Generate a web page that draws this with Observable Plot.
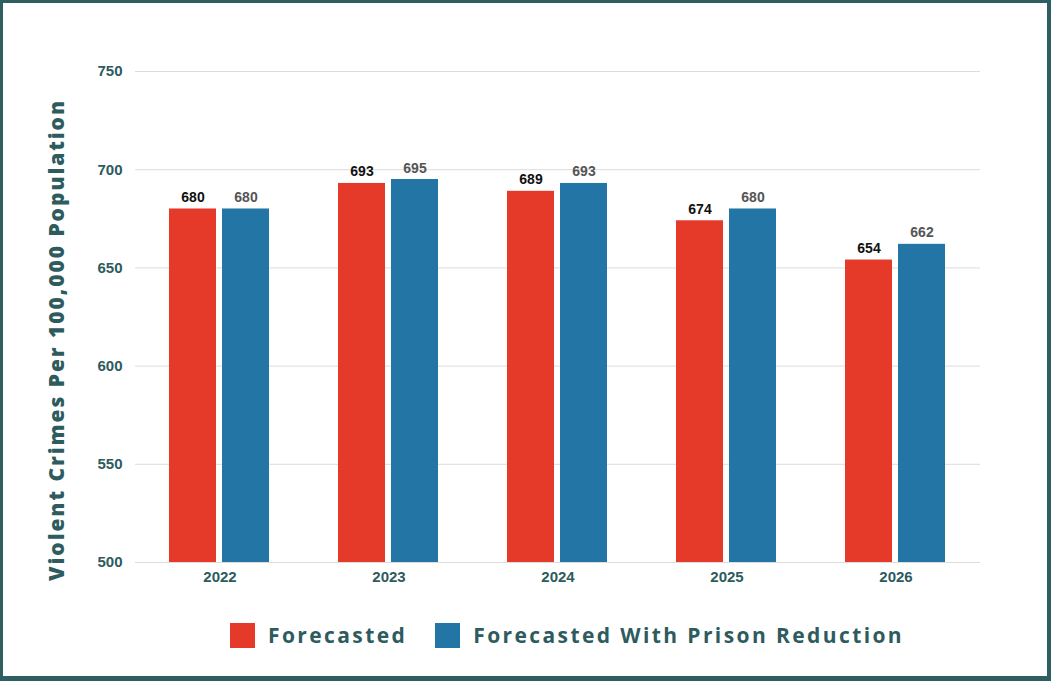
<!DOCTYPE html>
<html>
<head>
<meta charset="utf-8">
<script src="https://cdn.jsdelivr.net/npm/d3@7"></script>
<script src="https://cdn.jsdelivr.net/npm/@observablehq/plot@0.6"></script>
<style>
  html, body { margin: 0; padding: 0; background: #fff; }
  #frame {
    position: relative; box-sizing: border-box; width: 1051px; height: 681px;
    border-style: solid; border-color: #2f5e61; border-width: 3px 4px 5px 3px;
    background: #fff; overflow: hidden;
  }
  #ytitle {
    position: absolute; left: 53px; top: 337px;
    transform: translate(-50%, -50%) rotate(-90deg);
    white-space: nowrap; font-family: "Open Sans", sans-serif; font-weight: 800;
    font-size: 21px; letter-spacing: 1.95px; color: #2d5b5e;
  }
  #legend {
    position: absolute; left: 227px; top: 618px; display: flex; align-items: center;
    font-family: "Open Sans", sans-serif; font-weight: 700; font-size: 21px;
    letter-spacing: 2.4px; color: #2d5b5e;
  }
  .item { display: flex; align-items: center; margin-right: 28px; }
  .sw { width: 25px; height: 25px; margin-right: 13px; }
</style>
</head>
<body>
<div id="frame">
  <div id="chart"></div>
  <div id="ytitle">Violent Crimes Per 100,000 Population</div>
  <div id="legend"></div>
</div>
<script>
const years = ["2022", "2023", "2024", "2025", "2026"];
const seriesNames = ["Forecasted", "Forecasted With Prison Reduction"];
const forecasted = [680, 693, 689, 674, 654];
const withReduction = [680, 695, 693, 680, 662];
const yTicks = [500, 550, 600, 650, 700, 750];
const colors = ["#e5392a", "#2375a6"];

const data = [];
years.forEach((yr, i) => {
  data.push({year: yr, series: seriesNames[0], value: forecasted[i]});
  data.push({year: yr, series: seriesNames[1], value: withReduction[i]});
});

const teal = "#2d5b5e";
const numFont = "Liberation Sans, Arial, sans-serif";

const chart = Plot.plot({
  width: 1044,
  height: 600,
  marginLeft: 132,
  marginRight: 67,
  marginTop: 68,
  marginBottom: 41,
  style: {background: "#fff", fontFamily: numFont, overflow: "visible"},
  fx: {domain: years, padding: 0, axis: null},
  x: {domain: seriesNames, paddingInner: 0.11, paddingOuter: 0.62, axis: null},
  y: {domain: [500, 750], axis: null},
  color: {domain: seriesNames, range: colors},
  marks: [
    Plot.gridY(yTicks, {stroke: "#dcdcdc", strokeOpacity: 1, strokeWidth: 1}),
    Plot.barY(data, {fx: "year", x: "series", y: "value", fill: "series", clip: true}),
    Plot.text(data, {filter: d => d.series === seriesNames[0], fx: "year", x: "series", y: "value",
      text: d => String(d.value), lineAnchor: "bottom", dy: -7, fill: "#111",
      fontWeight: "bold", fontSize: 14}),
    Plot.text(data, {filter: d => d.series === seriesNames[1], fx: "year", x: "series", y: "value",
      text: d => String(d.value), lineAnchor: "bottom", dy: -7, fill: "#555",
      fontWeight: "bold", fontSize: 14}),
    Plot.axisY(yTicks, {tickSize: 0, tickPadding: 13, fill: teal, fontWeight: "bold", fontSize: 15, label: null}),
    Plot.axisFx({anchor: "bottom", tickSize: 0, tickPadding: 9, fill: teal, fontWeight: "bold", fontSize: 15, label: null})
  ]
});
document.getElementById("chart").appendChild(chart);

const legend = document.getElementById("legend");
seriesNames.forEach((name, i) => {
  const item = document.createElement("div");
  item.className = "item";
  const sw = document.createElement("div");
  sw.className = "sw";
  sw.style.background = colors[i];
  const label = document.createElement("span");
  label.textContent = name;
  item.appendChild(sw);
  item.appendChild(label);
  legend.appendChild(item);
});
</script>
</body>
</html>
